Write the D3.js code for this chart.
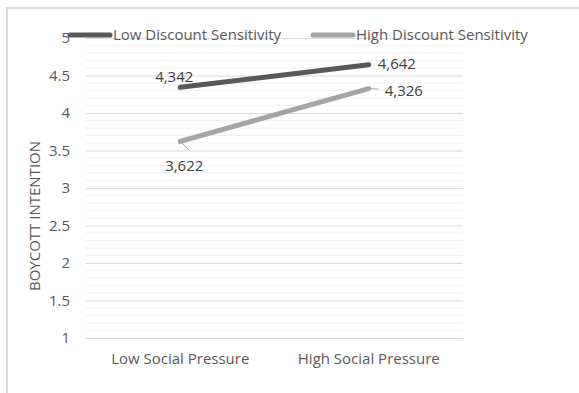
<!DOCTYPE html>
<html>
<head>
<meta charset="utf-8">
<script src="https://cdn.jsdelivr.net/npm/d3@7"></script>
<style>
  html, body { margin: 0; padding: 0; background: #fff; }
  svg { display: block; font-family: "Open Sans", "Liberation Sans", sans-serif; }
</style>
</head>
<body>
<svg id="chart" width="579" height="393"></svg>
<script>
// Categories along the x axis
const categories = ["Low Social Pressure", "High Social Pressure"];
// Series names and their values
const seriesNames = ["Low Discount Sensitivity", "High Discount Sensitivity"];
const lowDiscount = [4.342, 4.642];
const highDiscount = [3.622, 4.326];
const yTicks = [1, 1.5, 2, 2.5, 3, 3.5, 4, 4.5, 5];
const yTitle = "BOYCOTT INTENTION";

const seriesColors = ["#595959", "#a5a5a5"];
const series = [
  { name: seriesNames[0], values: lowDiscount, color: seriesColors[0] },
  { name: seriesNames[1], values: highDiscount, color: seriesColors[1] }
];

const svg = d3.select("#chart");
const fmt = v => d3.format(".3f")(v).replace(".", ",");
const FONT = "'Open Sans', 'Liberation Sans', sans-serif";

// Chart frame (top and left edges of the chart area)
svg.append("path")
  .attr("d", "M7,393 L7,8 L579,8")
  .attr("fill", "none").attr("stroke", "#d9d9d9").attr("stroke-width", 2);

const plot = { left: 86, right: 463, top: 38, bottom: 338 };

const x = d3.scaleBand().domain(categories).range([plot.left, plot.right]);
const y = d3.scaleLinear().domain([1, 5]).range([plot.bottom, plot.top]);

// Minor gridlines every 0.1
const minor = d3.range(10, 51).map(d => d / 10).filter(d => Math.round(d * 10) % 5 !== 0);
svg.append("g").selectAll("line").data(minor).join("line")
  .attr("x1", plot.left).attr("x2", plot.right)
  .attr("y1", d => y(d)).attr("y2", d => y(d))
  .attr("stroke", "#f0f0f0").attr("stroke-width", 1);

// Major gridlines with tick labels
const yAxis = d3.axisLeft(y).tickValues(yTicks).tickSize(-(plot.right - plot.left)).tickPadding(16)
  .tickFormat(d => String(d));
const gy = svg.append("g").attr("transform", `translate(${plot.left},0)`).call(yAxis)
  .attr("font-size", 15).attr("font-family", FONT);
gy.select(".domain").remove();
gy.selectAll(".tick line").attr("stroke", "#d9d9d9").attr("stroke-width", 1);
gy.selectAll(".tick text").attr("fill", "#595959");

// Category labels
const xAxis = d3.axisBottom(x).tickSize(0).tickPadding(15);
const gx = svg.append("g").attr("transform", `translate(0,${plot.bottom})`).call(xAxis)
  .attr("font-size", 15).attr("font-family", FONT);
gx.select(".domain").remove();
gx.selectAll(".tick text").attr("fill", "#595959");

// Y axis title
svg.append("text")
  .attr("transform", `translate(40,216) rotate(-90)`)
  .attr("text-anchor", "middle")
  .attr("fill", "#595959").attr("font-size", 15)
  .text(yTitle);

// Series lines
const line = d3.line()
  .x((d, i) => x(categories[i]) + x.bandwidth() / 2)
  .y(d => y(d));

svg.append("g").selectAll("path").data(series).join("path")
  .attr("d", s => line(s.values))
  .attr("fill", "none")
  .attr("stroke", s => s.color)
  .attr("stroke-width", 5)
  .attr("stroke-linecap", "round");

// Data labels
const px = i => x(categories[i]) + x.bandwidth() / 2;
const labels = [
  { v: lowDiscount[0], i: 0, dx: -6, dy: -11, anchor: "middle", leader: false },
  { v: lowDiscount[1], i: 1, dx: 9, dy: -1, anchor: "start", leader: false },
  { v: highDiscount[1], i: 1, dx: 16, dy: 2, anchor: "start", leader: true },
  { v: highDiscount[0], i: 0, dx: 4, dy: 24, anchor: "middle", leader: true }
];
const lg = svg.append("g");
labels.forEach(l => {
  const cx = px(l.i), cy = y(l.v);
  if (l.leader) {
    const ex = l.anchor === "start" ? cx + l.dx - 6 : cx + 9;
    const ey = l.anchor === "start" ? cy + 0.5 : cy + 9;
    lg.append("line")
      .attr("x1", cx).attr("y1", cy).attr("x2", ex).attr("y2", ey)
      .attr("stroke", "#a5a5a5").attr("stroke-width", 1);
  }
  lg.append("text")
    .attr("x", cx + l.dx).attr("y", cy + l.dy)
    .attr("dy", "0.35em")
    .attr("text-anchor", l.anchor)
    .attr("fill", "#404040").attr("font-size", 15)
    .text(fmt(l.v));
});

// Legend
const legendPos = [70, 313];
const leg = svg.append("g");
series.forEach((s, i) => {
  const lx = legendPos[i], ly = 35;
  leg.append("line")
    .attr("x1", lx).attr("x2", lx + 40).attr("y1", ly).attr("y2", ly)
    .attr("stroke", s.color).attr("stroke-width", 5).attr("stroke-linecap", "round");
  leg.append("text")
    .attr("x", lx + 43).attr("y", ly).attr("dy", "0.35em")
    .attr("fill", "#595959").attr("font-size", 15)
    .text(s.name);
});
</script>
</body>
</html>
